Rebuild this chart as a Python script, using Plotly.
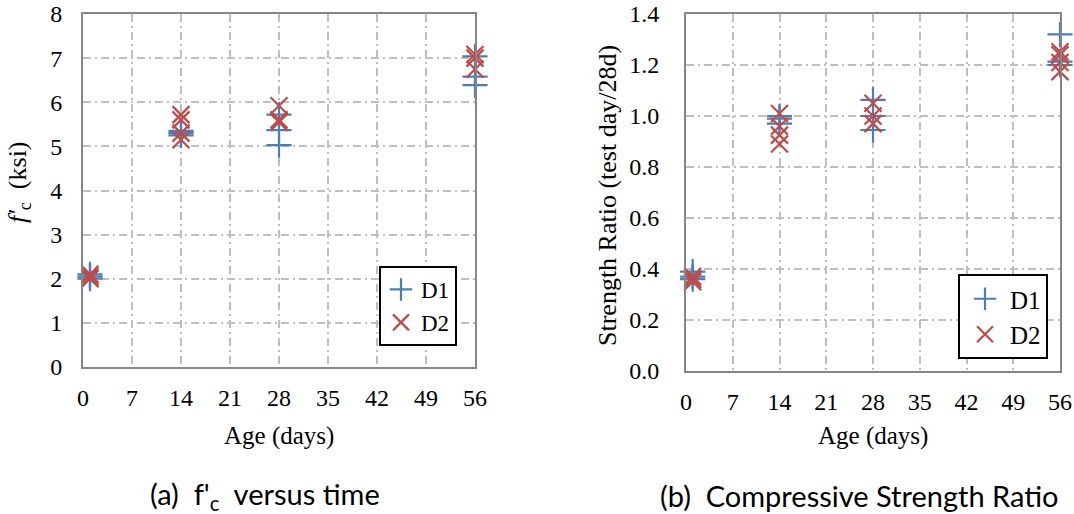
import plotly.graph_objects as go

# ---------------- data ----------------
x_ticks = [0, 7, 14, 21, 28, 35, 42, 49, 56]

# (a) f'c versus time
d1_days_a = [1, 1, 1, 14, 14, 14, 28, 28, 28, 56, 56, 56]
d1_fc = [2.05, 2.0, 2.1, 5.25, 5.3, 5.35, 5.03, 5.37, 5.72, 6.39, 6.58, 7.04]
d2_days_a = [1, 1, 1, 14, 14, 14, 14, 28, 28, 28, 56, 56, 56]
d2_fc = [2.0, 2.05, 2.1, 5.15, 5.3, 5.6, 5.72, 5.55, 5.6, 5.92, 6.75, 7.0, 7.08]

# (b) compressive strength ratio
d1_days_b = [1, 1, 1, 14, 14, 14, 28, 28, 28, 56, 56, 56]
d1_ratio = [0.39, 0.37, 0.36, 0.97, 0.99, 1.0, 0.945, 1.0, 1.063, 1.2, 1.213, 1.32]
d2_days_b = [1, 1, 1, 14, 14, 14, 14, 28, 28, 28, 56, 56, 56, 56]
d2_ratio = [0.35, 0.36, 0.37, 0.89, 0.925, 0.96, 1.01, 0.97, 1.0, 1.05, 1.174, 1.21, 1.24, 1.252]

# ---------------- style ----------------
W, H = 1074, 514
BLUE = "#4A7EBB"
RED = "#BE4B48"
GRID = "#BFBFBF"
BORDER = "#868686"
SERIF = "Liberation Serif"
SANS = "Lato"


def px(x):
    return x / W


def py(y):
    return 1 - y / H


fig = go.Figure()

mk1 = dict(symbol="cross-thin", size=18, color=BLUE, line=dict(color=BLUE, width=2.2))
mk2 = dict(symbol="x-thin", size=17, color=RED, line=dict(color=RED, width=2.2))

fig.add_trace(go.Scatter(x=d1_days_a, y=d1_fc, mode="markers", name="D1", marker=mk1,
                         xaxis="x", yaxis="y", legend="legend", cliponaxis=False))
fig.add_trace(go.Scatter(x=d2_days_a, y=d2_fc, mode="markers", name="D2", marker=mk2,
                         xaxis="x", yaxis="y", legend="legend", cliponaxis=False))
fig.add_trace(go.Scatter(x=d1_days_b, y=d1_ratio, mode="markers", name="D1", marker=mk1,
                         xaxis="x2", yaxis="y2", legend="legend2", cliponaxis=False))
fig.add_trace(go.Scatter(x=d2_days_b, y=d2_ratio, mode="markers", name="D2", marker=mk2,
                         xaxis="x2", yaxis="y2", legend="legend2", cliponaxis=False))

axis_common = dict(
    showgrid=True, gridcolor=GRID, gridwidth=1.5, griddash="8px,4px,2px,4px",
    showline=True, mirror=True, linecolor=BORDER, linewidth=2, automargin=False,
    zeroline=False, ticks="",
)

fig.update_layout(
    width=W, height=H,
    margin=dict(l=0, r=0, t=0, b=0, autoexpand=False),
    paper_bgcolor="white", plot_bgcolor="white",
    font=dict(family=SERIF, size=22, color="black"),
    xaxis=dict(domain=[px(83), px(475)], range=[0, 56], tickvals=x_ticks, anchor="y",
               ticklabelstandoff=8, tickfont=dict(family=SERIF, size=24, color="black"),
               **axis_common),
    yaxis=dict(domain=[py(367), py(14)], range=[0, 8], dtick=1, anchor="x",
               ticklabelstandoff=14, tickfont=dict(family=SERIF, size=24, color="black"),
               **axis_common),
    xaxis2=dict(domain=[px(686), px(1060)], range=[0, 56], tickvals=x_ticks, anchor="y2",
                ticklabelstandoff=8, tickfont=dict(family=SERIF, size=24, color="black"),
                **axis_common),
    yaxis2=dict(domain=[py(371), py(14)], range=[0, 1.4], dtick=0.2, tickformat=".1f",
                anchor="x2", ticklabelstandoff=20, tickfont=dict(family=SERIF, size=24, color="black"),
                **axis_common),
    legend=dict(x=px(379), y=py(266), xanchor="left", yanchor="top",
                bordercolor="black", borderwidth=2, bgcolor="white",
                font=dict(family=SERIF, size=23, color="black"),
                itemwidth=30, tracegroupgap=0),
    legend2=dict(x=px(958), y=py(274), xanchor="left", yanchor="top",
                 bordercolor="black", borderwidth=2, bgcolor="white",
                 font=dict(family=SERIF, size=25, color="black"),
                 itemwidth=40, tracegroupgap=0),
    showlegend=True,
)

ann = []
# y-axis titles
ann.append(dict(x=px(19), y=py(182), xref="paper", yref="paper", showarrow=False,
                text="<i>f'</i><sub>c</sub>  (ksi)", textangle=-90,
                font=dict(family=SERIF, size=26, color="black"), xanchor="center", yanchor="middle"))
ann.append(dict(x=px(607), y=py(196), xref="paper", yref="paper", showarrow=False,
                text="Strength Ratio (test day/28d)", textangle=-90,
                font=dict(family=SERIF, size=26, color="black"), xanchor="center", yanchor="middle"))
# x-axis titles
ann.append(dict(x=px(279), y=py(436), xref="paper", yref="paper", showarrow=False,
                text="Age (days)", font=dict(family=SERIF, size=25, color="black"),
                xanchor="center", yanchor="middle"))
ann.append(dict(x=px(873), y=py(436), xref="paper", yref="paper", showarrow=False,
                text="Age (days)", font=dict(family=SERIF, size=25, color="black"),
                xanchor="center", yanchor="middle"))
# captions
ann.append(dict(x=px(265), y=py(495), xref="paper", yref="paper", showarrow=False,
                text="(a)  f'<sub>c</sub>  versus time", font=dict(family=SANS, size=29, color="black"),
                xanchor="center", yanchor="middle"))
ann.append(dict(x=px(859), y=py(495), xref="paper", yref="paper", showarrow=False,
                text="(b)  Compressive Strength Ratio", font=dict(family=SANS, size=29, color="black"),
                xanchor="center", yanchor="middle"))
fig.update_layout(annotations=ann)

fig.write_html("out.html", config={"displayModeBar": False},
               post_script="document.body.style.margin='0';document.body.style.overflow='hidden';")
